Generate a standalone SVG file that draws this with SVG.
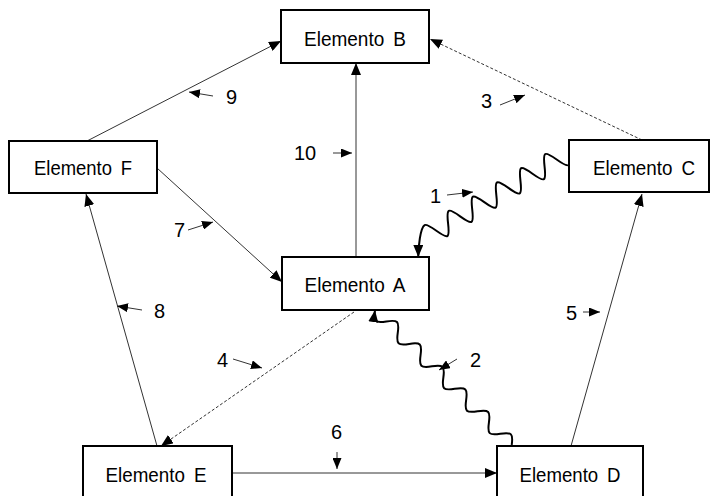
<svg xmlns="http://www.w3.org/2000/svg" width="711" height="496" viewBox="0 0 711 496">
<style>
.box{fill:#fff;stroke:#000;stroke-width:2}
.lbl{font-family:"Liberation Sans",Arial,sans-serif;font-size:20px;fill:#000;word-spacing:4px}
.num{font-family:"Liberation Sans",Arial,sans-serif;font-size:20px;fill:#000}
.ln{fill:none;stroke:#333;stroke-width:1}
.dash{fill:none;stroke:#333;stroke-width:1;stroke-dasharray:3,2}
.wave{fill:none;stroke:#000;stroke-width:2}
.tag{fill:none;stroke:#333;stroke-width:1}
</style>
<defs>
<marker id="ah" markerUnits="userSpaceOnUse" viewBox="0 0 12 10" markerWidth="12" markerHeight="10" refX="12" refY="5" orient="auto"><path d="M0,0 L12,5 L0,10 z" fill="#000"/></marker>
<marker id="sa" markerUnits="userSpaceOnUse" viewBox="0 0 11 9" markerWidth="11" markerHeight="9" refX="11" refY="4.5" orient="auto"><path d="M0,0 L11,4.5 L0,9 z" fill="#000"/></marker>
</defs>
<g id="connectors">
<line class="ln" x1="356" y1="257" x2="356" y2="63" marker-end="url(#ah)"/>
<line class="ln" x1="87" y1="141" x2="281" y2="41" marker-end="url(#ah)"/>
<line class="dash" x1="642" y1="140" x2="430" y2="39" marker-end="url(#ah)"/>
<line class="ln" x1="157" y1="168" x2="282" y2="282" marker-end="url(#ah)"/>
<line class="ln" x1="157" y1="446" x2="86" y2="194" marker-end="url(#ah)"/>
<line class="dash" x1="354" y1="312" x2="161" y2="446" marker-end="url(#ah)"/>
<line class="ln" x1="232" y1="473" x2="497" y2="473" marker-end="url(#ah)"/>
<line class="ln" x1="571" y1="446" x2="642" y2="194" marker-end="url(#ah)"/>
<path class="wave" transform="translate(568,165) rotate(149.5)" marker-end="url(#ah)" d="M0,0 c4.667,0 9.333,21 14,21 c4.667,0 9.333,-21 14,-21 c4.667,0 9.333,21 14,21 c4.667,0 9.333,-21 14,-21 c4.667,0 9.333,21 14,21 c4.667,0 9.333,-21 14,-21 c4.667,0 9.333,21 14,21 c4.667,0 9.333,-21 14,-21 c4.667,0 9.333,21 14,21 c4.667,0 9.333,-21 14,-21 c4.667,0 9.333,21 14,21 c5,0 16.6,-15.7 21.7,-24.3"/>
<path class="wave" transform="translate(511.7,445) rotate(-135.4)" marker-end="url(#ah)" d="M0,0 c2.667,3.6 5.333,7 8,7 c2.667,0 5.333,-3.4 8,-7 c2.667,-3.6 5.333,-7 8,-7 c2.667,0 5.333,3.4 8,7 c2.667,3.6 5.333,7 8,7 c2.667,0 5.333,-3.4 8,-7 c2.667,-3.6 5.333,-7 8,-7 c2.667,0 5.333,3.4 8,7 c2.667,3.6 5.333,7 8,7 c2.667,0 5.333,-3.4 8,-7 c2.667,-3.6 5.333,-7 8,-7 c2.667,0 5.333,3.4 8,7 c2.667,3.6 5.333,7 8,7 c2.667,0 5.333,-3.4 8,-7 c2.667,-3.6 5.333,-7 8,-7 c2.667,0 5.333,3.4 8,7 c2.667,3.6 5.333,7 8,7 c2.667,0 5.333,-3.4 8,-7 c2.667,-3.6 5.333,-7 8,-7 c2.667,0 5.333,3.4 8,7 c2.667,3.6 5.333,7 8,7 c2.667,0 5.333,-3.4 8,-7 c2.667,-3.6 5.333,-7 8,-7 c2.667,0 5.333,3.4 8,7"/>
</g>
<g id="labels">
<line class="tag" x1="213" y1="96" x2="189" y2="92" marker-end="url(#sa)"/><text class="num" x="226" y="104">9</text>
<line class="tag" x1="333" y1="153" x2="352" y2="153" marker-end="url(#sa)"/><text class="num" x="294" y="160">10</text>
<line class="tag" x1="447" y1="195" x2="473" y2="192" marker-end="url(#sa)"/><text class="num" x="430" y="203">1</text>
<line class="tag" x1="500" y1="105" x2="525" y2="95" marker-end="url(#sa)"/><text class="num" x="481" y="108">3</text>
<line class="tag" x1="188" y1="230" x2="213" y2="222" marker-end="url(#sa)"/><text class="num" x="174" y="237">7</text>
<line class="tag" x1="142" y1="310" x2="117" y2="306" marker-end="url(#sa)"/><text class="num" x="154" y="318">8</text>
<line class="tag" x1="233" y1="359" x2="262" y2="368" marker-end="url(#sa)"/><text class="num" x="217" y="367">4</text>
<line class="tag" x1="457" y1="359" x2="439" y2="370" marker-end="url(#sa)"/><text class="num" x="470" y="367">2</text>
<line class="tag" x1="583" y1="312" x2="600" y2="312" marker-end="url(#sa)"/><text class="num" x="566" y="320">5</text>
<line class="tag" x1="337" y1="452" x2="337" y2="469" marker-end="url(#sa)"/><text class="num" x="331" y="439">6</text>
</g>
<g id="nodeB"><rect class="box" x="281" y="10" width="148" height="53"/><text class="lbl" x="355" y="46" text-anchor="middle" textLength="102" lengthAdjust="spacingAndGlyphs">Elemento B</text></g>
<g id="nodeC"><rect class="box" x="569" y="140" width="140" height="52"/><text class="lbl" x="644" y="175" text-anchor="middle" textLength="102" lengthAdjust="spacingAndGlyphs">Elemento C</text></g>
<g id="nodeF"><rect class="box" x="9" y="141" width="148" height="52"/><text class="lbl" x="83" y="175" text-anchor="middle" textLength="98" lengthAdjust="spacingAndGlyphs">Elemento F</text></g>
<g id="nodeA"><rect class="box" x="282" y="257" width="147" height="53"/><text class="lbl" x="355" y="292" text-anchor="middle" textLength="101" lengthAdjust="spacingAndGlyphs">Elemento A</text></g>
<g id="nodeD"><rect class="box" x="497" y="446" width="146" height="53"/><text class="lbl" x="570" y="482" text-anchor="middle" textLength="101" lengthAdjust="spacingAndGlyphs">Elemento D</text></g>
<g id="nodeE"><rect class="box" x="83" y="446" width="149" height="53"/><text class="lbl" x="156" y="482" text-anchor="middle" textLength="101" lengthAdjust="spacingAndGlyphs">Elemento E</text></g>
</svg>
